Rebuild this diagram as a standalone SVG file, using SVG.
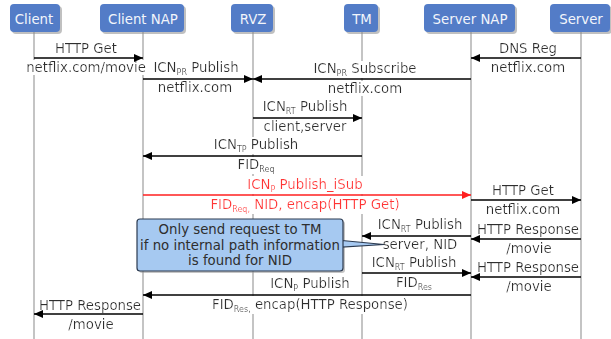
<svg xmlns="http://www.w3.org/2000/svg" width="611" height="339" viewBox="0 0 611 339">
  <defs>
    <style>
      text { font-family: "DejaVu Sans", Verdana, sans-serif; font-size: 13.3px; fill: #2e2e2e; text-anchor: middle; }
      .lbl { filter: url(#bg); }
      .head rect.box { fill: #537cc7; }
      .head rect.shd { fill: #8c8c8c; opacity: 0.55; }
      .head text { fill: #f2f5fb; }
      .life { stroke: #c4c4c4; stroke-width: 2; }
      .msg { stroke: #000; stroke-width: 1.6; marker-end: url(#ah); }
      .red { stroke: #ff1f1f; marker-end: url(#ahr); }
      text.r { fill: #ff3535; }
      .sub { font-size: 8px; }
      .note rect.box, .note polygon { fill: #a6c9f1; stroke: #2b3a50; stroke-width: 1.2; }
      .note rect.shd { fill: #8c8c8c; opacity: 0.5; }
    </style>
    <!-- white backdrop sized to each label's box -->
    <filter id="bg" x="0" y="0" width="1" height="1">
      <feFlood flood-color="#ffffff"/>
      <feComposite in="SourceGraphic" operator="over"/>
    </filter>
    <marker id="ah" markerUnits="userSpaceOnUse" markerWidth="9" markerHeight="8" refX="9" refY="4" orient="auto">
      <path d="M0,0 L9,4 L0,8 Z" fill="#000"/>
    </marker>
    <marker id="ahr" markerUnits="userSpaceOnUse" markerWidth="9" markerHeight="8" refX="9" refY="4" orient="auto">
      <path d="M0,0 L9,4 L0,8 Z" fill="#ff1f1f"/>
    </marker>
  </defs>

  <rect width="611" height="339" fill="#fff"/>

  <!-- lifelines -->
  <g id="lifelines">
    <line class="life" x1="34" y1="32" x2="34" y2="339"/>
    <line class="life" x1="143" y1="32" x2="143" y2="339"/>
    <line class="life" x1="253" y1="32" x2="253" y2="339"/>
    <line class="life" x1="362" y1="32" x2="362" y2="339"/>
    <line class="life" x1="471" y1="32" x2="471" y2="339"/>
    <line class="life" x1="581" y1="32" x2="581" y2="339"/>
  </g>

  <!-- participants -->
  <g id="client" class="head">
    <rect class="shd" x="12" y="6" width="50" height="28" rx="4"/>
    <rect class="box" x="10" y="4" width="50" height="28" rx="4"/>
    <text x="34" y="24">Client</text>
  </g>
  <g id="client-nap" class="head">
    <rect class="shd" x="102" y="6" width="84" height="28" rx="4"/>
    <rect class="box" x="100" y="4" width="84" height="28" rx="4"/>
    <text x="143" y="24">Client NAP</text>
  </g>
  <g id="rvz" class="head">
    <rect class="shd" x="233" y="6" width="42" height="28" rx="4"/>
    <rect class="box" x="231" y="4" width="42" height="28" rx="4"/>
    <text x="253" y="24">RVZ</text>
  </g>
  <g id="tm" class="head">
    <rect class="shd" x="346" y="6" width="34" height="28" rx="4"/>
    <rect class="box" x="344" y="4" width="34" height="28" rx="4"/>
    <text x="362" y="24">TM</text>
  </g>
  <g id="server-nap" class="head">
    <rect class="shd" x="426" y="6" width="91" height="28" rx="4"/>
    <rect class="box" x="424" y="4" width="91" height="28" rx="4"/>
    <text x="470" y="24">Server NAP</text>
  </g>
  <g id="server" class="head">
    <rect class="shd" x="552" y="6" width="60" height="28" rx="4"/>
    <rect class="box" x="550" y="4" width="60" height="28" rx="4"/>
    <text x="581" y="24">Server</text>
  </g>

  <!-- message labels -->
  <g id="labels">
    <text class="lbl" x="86" y="53">HTTP Get</text>
    <text class="lbl" x="86" y="72">netflix.com/movie</text>

    <text class="lbl" x="196" y="72">ICN<tspan class="sub" dy="3">PR</tspan><tspan dy="-3"> Publish</tspan></text>
    <text class="lbl" x="195" y="92">netflix.com</text>

    <text class="lbl" x="365" y="73">ICN<tspan class="sub" dy="3">PR</tspan><tspan dy="-3"> Subscribe</tspan></text>
    <text class="lbl" x="365" y="93">netflix.com</text>

    <text class="lbl" x="528" y="53">DNS Reg</text>
    <text class="lbl" x="528" y="72">netflix.com</text>

    <text class="lbl" x="305" y="111">ICN<tspan class="sub" dy="3">RT</tspan><tspan dy="-3"> Publish</tspan></text>
    <text class="lbl" x="305" y="131">client,server</text>

    <text class="lbl" x="256" y="149">ICN<tspan class="sub" dy="3">TP</tspan><tspan dy="-3"> Publish</tspan></text>
    <text class="lbl" x="256" y="169">FID<tspan class="sub" dy="3">Req</tspan></text>

    <text class="lbl r" x="305" y="188.5">ICN<tspan class="sub" dy="3">P</tspan><tspan dy="-3"> Publish_iSub</tspan></text>
    <text class="lbl r" x="305" y="208.5">FID<tspan class="sub" dy="3">Req,</tspan><tspan dy="-3"> NID, encap(HTTP Get)</tspan></text>

    <text class="lbl" x="523" y="195">HTTP Get</text>
    <text class="lbl" x="523" y="213.5">netflix.com</text>

    <text class="lbl" x="420" y="229">ICN<tspan class="sub" dy="3">RT</tspan><tspan dy="-3"> Publish</tspan></text>
    <text class="lbl" x="420" y="248.5">server, NID</text>

    <text class="lbl" x="528" y="234">HTTP Response</text>
    <text class="lbl" x="529" y="252.5">/movie</text>

    <text class="lbl" x="414" y="266.5">ICN<tspan class="sub" dy="3">RT</tspan><tspan dy="-3"> Publish</tspan></text>
    <text class="lbl" x="414" y="287">FID<tspan class="sub" dy="3">Res</tspan></text>

    <text class="lbl" x="528" y="272">HTTP Response</text>
    <text class="lbl" x="529" y="291">/movie</text>

    <text class="lbl" x="310" y="287.5">ICN<tspan class="sub" dy="3">P</tspan><tspan dy="-3"> Publish</tspan></text>
    <text class="lbl" x="310" y="308.5">FID<tspan class="sub" dy="3">Res,</tspan><tspan dy="-3"> encap(HTTP Response)</tspan></text>

    <text class="lbl" x="90" y="309.5">HTTP Response</text>
    <text class="lbl" x="91" y="328.5">/movie</text>
  </g>

  <!-- messages -->
  <g id="connectors">
    <line class="msg" x1="34" y1="58" x2="143" y2="58"/>
    <line class="msg" x1="143" y1="79" x2="253" y2="79"/>
    <line class="msg" x1="471" y1="79" x2="253" y2="79"/>
    <line class="msg" x1="581" y1="58" x2="471" y2="58"/>
    <line class="msg" x1="253" y1="118" x2="362" y2="118"/>
    <line class="msg" x1="362" y1="156" x2="143" y2="156"/>
    <line class="msg red" x1="143" y1="195" x2="471" y2="195"/>
    <line class="msg" x1="471" y1="200" x2="581" y2="200"/>
    <line class="msg" x1="471" y1="236" x2="362" y2="236"/>
    <line class="msg" x1="581" y1="239" x2="471" y2="239"/>
    <line class="msg" x1="362" y1="273" x2="471" y2="273"/>
    <line class="msg" x1="581" y1="277" x2="471" y2="277"/>
    <line class="msg" x1="471" y1="295" x2="143" y2="295"/>
    <line class="msg" x1="143" y1="314" x2="34" y2="314"/>
  </g>

  <!-- note on the TM request -->
  <g id="note" class="note">
    <rect class="shd" x="139" y="221" width="206" height="52" rx="3"/>
    <polygon points="342,240.5 384,244.5 342,247"/>
    <rect class="box" x="137" y="219" width="206" height="52" rx="3"/>
    <text x="240" y="234">Only send request to TM</text>
    <text x="240" y="249.5">if no internal path information</text>
    <text x="240" y="265">is found for NID</text>
  </g>
</svg>
